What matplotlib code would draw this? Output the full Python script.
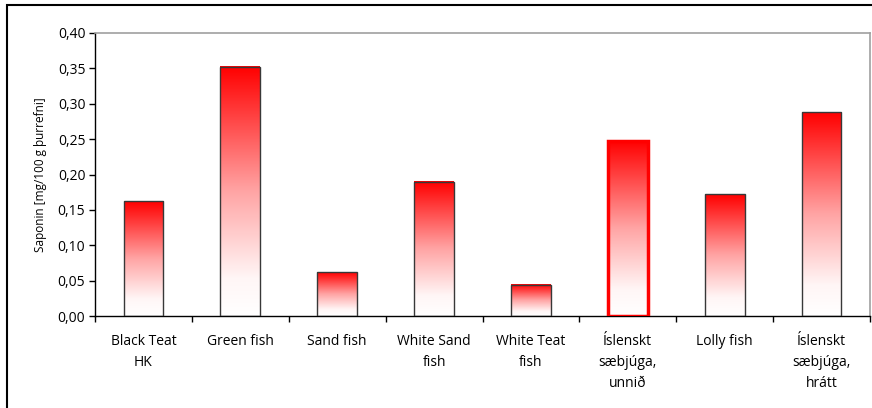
import numpy as np
import matplotlib
matplotlib.use("Agg")
import matplotlib.pyplot as plt
from matplotlib.patches import Rectangle
from matplotlib.colors import LinearSegmentedColormap
from matplotlib.ticker import FuncFormatter, MultipleLocator

# data
categories = ["Black Teat\nHK", "Green fish", "Sand fish", "White Sand\nfish",
              "White Teat\nfish", "Íslenskt\nsæbjúga,\nunnið", "Lolly fish",
              "Íslenskt\nsæbjúga,\nhrátt"]
saponin = [0.162, 0.352, 0.062, 0.190, 0.044, 0.248, 0.172, 0.288]
highlight = 5  # bar drawn with the thick red border

plt.rcParams['font.family'] = ['Open Sans', 'DejaVu Sans']

fig = plt.figure(figsize=(8.72, 4.08), dpi=100)
ax = fig.add_axes([95/872, 1-316/408, 775/872, 283/408])

# outer chart frame (right and bottom run off the picture)
fig.patches.append(Rectangle((7/872, -0.05), 1.1, 1.05 - 5/408, transform=fig.transFigure,
                             fill=False, edgecolor='black', linewidth=1.5))

# red at the top fading to white, white reached a bit above the base
cmap = LinearSegmentedColormap.from_list(
    'redwhite', [(0.0, '#ffffff'), (0.15, '#fff6f6'), (0.5, '#ffa4a4'), (1.0, '#ff0000')])
grad = np.linspace(0, 1, 256).reshape(-1, 1)
width = 0.41
x = np.arange(len(categories))
for i, v in enumerate(saponin):
    x0 = x[i] - width/2
    ax.imshow(grad, extent=[x0, x0 + width, 0, v], origin='lower', aspect='auto',
              cmap=cmap, zorder=2, interpolation='bilinear')
    if i == highlight:
        ax.add_patch(Rectangle((x0, 0), width, v, fill=False, edgecolor='#ff0000',
                               linewidth=2.5, zorder=3))
    else:
        ax.add_patch(Rectangle((x0, 0), width, v, fill=False, edgecolor='#383838',
                               linewidth=1.0, zorder=3))

ax.set_xlim(-0.5, len(categories) - 0.5)
ax.set_ylim(0, 0.40)
ax.yaxis.set_major_locator(MultipleLocator(0.05))
ax.yaxis.set_major_formatter(FuncFormatter(lambda v, p: f"{v:.2f}".replace('.', ',')))

ax.set_xticks(x)
ax.set_xticklabels(categories, fontsize=10, linespacing=1.55, va='top')
ax.set_xticks(np.arange(-0.5, len(categories)), minor=True)
ax.tick_params(axis='x', which='major', length=0, pad=13)
ax.tick_params(axis='x', which='minor', length=4, direction='out', width=1)
ax.tick_params(axis='y', length=4, direction='out', width=1, labelsize=10, pad=3)

for s in ['top', 'right']:
    ax.spines[s].set_color('#a0a0a0')
    ax.spines[s].set_linewidth(1.2)
for s in ['left', 'bottom']:
    ax.spines[s].set_color('black')
    ax.spines[s].set_linewidth(1.0)

ax.set_ylabel("Saponin [mg/100 g þurrefni]", fontsize=8.5, labelpad=8)

fig.savefig("out.png", dpi=100)
